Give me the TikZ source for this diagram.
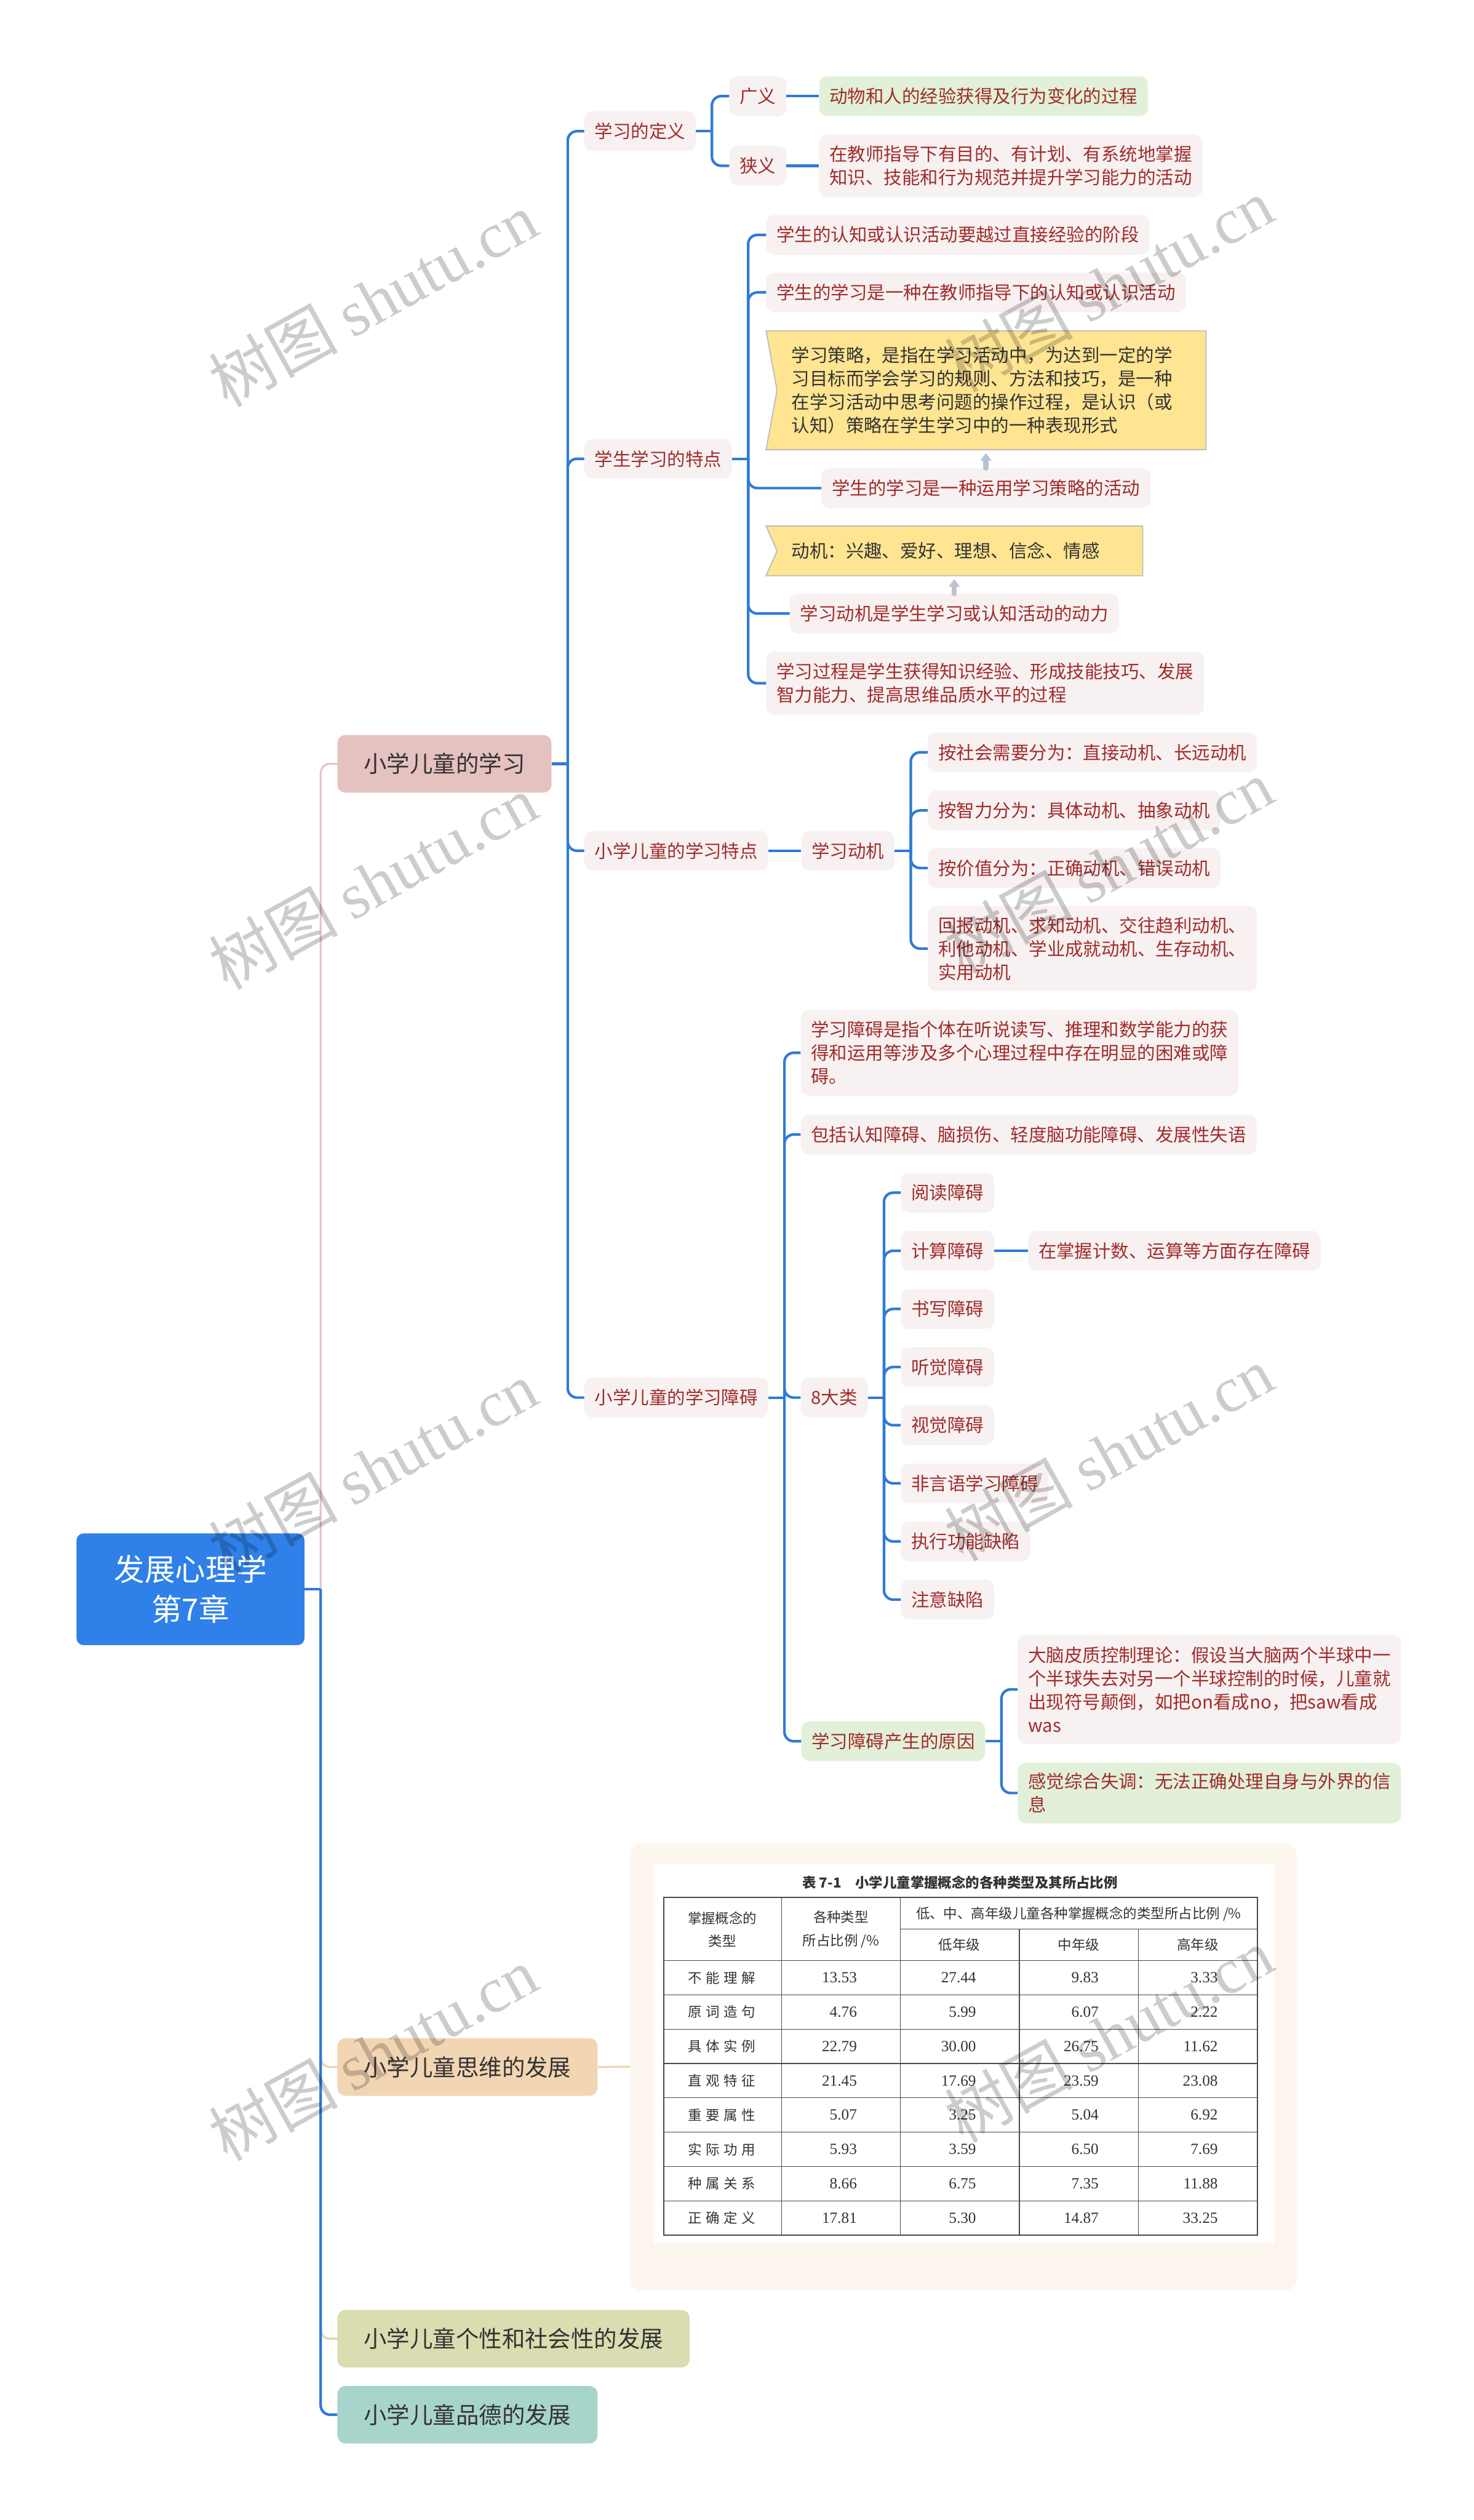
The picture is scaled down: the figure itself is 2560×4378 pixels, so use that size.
\documentclass[tikz,border=0pt]{standalone}
\usepackage{fontspec}
\setmainfont{Noto Sans CJK SC}
\newfontfamily\serifnum{Liberation Serif}
\usetikzlibrary{arrows.meta,calc}
\pgfdeclarelayer{bg}
\pgfsetlayers{bg,main}
\definecolor{blueline}{HTML}{2E7BD6}
\definecolor{rootfill}{HTML}{2F80E8}
\definecolor{pinkfill}{HTML}{E5C1C0}
\definecolor{peachfill}{HTML}{F2D5B3}
\definecolor{olivefill}{HTML}{D9DDB0}
\definecolor{tealfill}{HTML}{A8D5CB}
\definecolor{pinkline}{HTML}{E8C6C5}
\definecolor{peachline}{HTML}{F0D3B0}
\definecolor{oliveline}{HTML}{D8DBAE}
\definecolor{lvfill}{HTML}{F8F1F1}
\definecolor{grfill}{HTML}{E2F0D9}
\definecolor{lvtext}{HTML}{A02C2C}
\definecolor{darktext}{HTML}{333333}
\definecolor{callfill}{HTML}{FFE591}
\definecolor{callborder}{HTML}{BDBDBD}
\definecolor{arrowa}{HTML}{B3C3D6}
\definecolor{arrowb}{HTML}{C6BED2}
\definecolor{tblfill}{HTML}{FDF6EE}
\definecolor{tblline}{HTML}{4A4A4A}
\newcommand\link[3][bl]{%
  \draw[#1] (#2.east) -- ++(28,0) coordinate (jj);
  \draw[#1,rounded corners=16pt] (jj) |- (#3.west);}
\newcommand\slink[3][bl]{\draw[#1] (#2.east) -- (#3.west);}
\newcommand\lsp{\kern7pt}
\begin{document}
\begin{tikzpicture}[x=1pt,y=-1pt,
  bl/.style={draw=blueline,line width=4.5pt},
  pl/.style={draw=pinkline,line width=3.5pt},
  tl/.style={draw=peachline,line width=3.5pt},
  ol/.style={draw=oliveline,line width=3.5pt},
  lv/.style={fill=lvfill,rounded corners=14pt,text=lvtext,font=\fontsize{31.5}{40.5}\selectfont,inner xsep=18pt,inner ysep=0pt,minimum height=69pt,anchor=west,align=left},
  gr/.style={lv,fill=grfill},
  lone/.style={rounded corners=14pt,text=darktext,font=\fontsize{40}{48}\selectfont,inner xsep=46pt,inner ysep=0pt,minimum height=100pt,anchor=west},
  rootbox/.style={fill=rootfill,rounded corners=12pt,text=white,font=\fontsize{53}{69}\selectfont,align=center,minimum width=396pt,minimum height=194pt},
  callbox/.style={text=darktext,font=\fontsize{31.5}{40.5}\selectfont,inner xsep=44pt,inner ysep=0pt,anchor=west,align=left},
  tipa/.style={draw=arrowa,line width=9pt,line cap=round,shorten >=6pt,-{Triangle[length=13pt,width=19pt]}},
  tipb/.style={draw=arrowb,line width=9pt,line cap=round,shorten >=6pt,-{Triangle[length=13pt,width=19pt]}},
  tbl/.style={fill=tblfill,rounded corners=20pt,minimum width=1158pt,minimum height=777pt},
  thd/.style={text=darktext,font=\fontsize{24}{40}\selectfont,align=center,inner sep=0pt},
  tnum/.style={text=darktext,font=\serifnum\fontsize{27}{30}\selectfont,inner sep=0pt,anchor=east},
  tlab/.style={text=darktext,font=\fontsize{24}{30}\selectfont,inner sep=0pt},
  tthick/.style={draw=tblline,line width=2.5pt},
  tthin/.style={draw=tblline,line width=1.3pt},
  wm/.style={rotate=29,text=black,text opacity=0.2,font=\fontsize{112}{120}\selectfont,inner sep=0pt}
]
\begin{pgfonlayer}{bg}
\fill[white] (0,0) rectangle (2560,4378);
\end{pgfonlayer}
\path[use as bounding box] (0,0) rectangle (2560,4378);

% root and level 1
\node[rootbox] (root) at (331,2761) {发展心理学\\第7章};
\node[lone,fill=pinkfill] (l1a) at (586,1327) {小学儿童的学习};
\node[lone,fill=peachfill] (l1b) at (586,3591) {小学儿童思维的发展};
\node[lone,fill=olivefill] (l1c) at (586,4063) {小学儿童个性和社会性的发展};
\node[lone,fill=tealfill] (l1d) at (586,4195) {小学儿童品德的发展};

% level 2: learning definition
\node[lv] (a1) at (1015,228) {学习的定义};
\node[lv] (a11) at (1267,167) {广义};
\node[lv] (a12) at (1267,288) {狭义};
\node[gr] (a111) at (1423,167) {动物和人的经验获得及行为变化的过程};
\node[lv,minimum height=109pt] (a121) at (1423,288) {在教师指导下有目的、有计划、有系统地掌握\\知识、技能和行为规范并提升学习能力的活动};

% student learning features
\node[lv] (a2) at (1015,797) {学生学习的特点};
\node[lv] (a21) at (1331,408) {学生的认知或认识活动要越过直接经验的阶段};
\node[lv] (a22) at (1331,508) {学生的学习是一种在教师指导下的认知或认识活动};
\node[callbox,text width=676pt,minimum height=206pt] (c1) at (1331,678) {学习策略，是指在学习活动中，为达到一定的学\\习目标而学会学习的规则、方法和技巧，是一种\\在学习活动中思考问题的操作过程，是认识（或\\认知）策略在学生学习中的一种表现形式};
\node[lv] (a23) at (1427,848) {学生的学习是一种运用学习策略的活动};
\node[callbox,text width=566pt,minimum height=86pt] (c2) at (1331,957) {动机：兴趣、爱好、理想、信念、情感};
\node[lv] (a24) at (1372,1066) {学习动机是学生学习或认知活动的动力};
\node[lv,minimum height=109pt] (a25) at (1331,1187) {学习过程是学生获得知识经验、形成技能技巧、发展\\智力能力、提高思维品质水平的过程};
\begin{pgfonlayer}{bg}
\filldraw[fill=callfill,draw=callborder,line width=2pt] (c1.north west) -- (c1.north east) -- (c1.south east) -- (c1.south west) -- ($(c1.west)+(19,0)$) -- cycle;
\filldraw[fill=callfill,draw=callborder,line width=2pt] (c2.north west) -- (c2.north east) -- (c2.south east) -- (c2.south west) -- ($(c2.west)+(19,0)$) -- cycle;
\end{pgfonlayer}

% primary school learning features
\node[lv] (a3) at (1015,1478) {小学儿童的学习特点};
\node[lv] (a31) at (1392,1478) {学习动机};
\node[lv] (a311) at (1612,1307) {按社会需要分为：直接动机、长远动机};
\node[lv] (a312) at (1612,1408) {按智力分为：具体动机、抽象动机};
\node[lv] (a313) at (1612,1508) {按价值分为：正确动机、错误动机};
\node[lv,minimum height=148pt] (a314) at (1612,1648) {回报动机、求知动机、交往趋利动机、\\利他动机、学业成就动机、生存动机、\\实用动机};

% learning disabilities
\node[lv] (a4) at (1015,2428) {小学儿童的学习障碍};
\node[lv,minimum height=149pt] (a41) at (1391,1829) {学习障碍是指个体在听说读写、推理和数学能力的获\\得和运用等涉及多个心理过程中存在明显的困难或障\\碍。};
\node[lv] (a42) at (1391,1971) {包括认知障碍、脑损伤、轻度脑功能障碍、发展性失语};
\node[lv] (a43) at (1391,2428) {8大类};
\foreach \t [count=\i] in {阅读障碍,计算障碍,书写障碍,听觉障碍,视觉障碍,非言语学习障碍,执行功能缺陷,注意缺陷}
  \node[lv] (b\i) at (1565,{2072+101*(\i-1)}) {\t};
\node[lv] (b21) at (1786,2173) {在掌握计数、运算等方面存在障碍};
\node[gr] (a44) at (1392,3025) {学习障碍产生的原因};
\node[lv,minimum height=189pt] (a441) at (1768,2935) {大脑皮质控制理论：假设当大脑两个半球中一\\个半球失去对另一个半球控制的时候，儿童就\\出现符号颠倒，如把on看成no，把saw看成\\was};
\node[gr,minimum height=105pt] (a442) at (1768,3115) {感觉综合失调：无法正确处理自身与外界的信\\息};

% table image
\node[tbl] (tbl) at (1674,3590.5) {};
\fill[white] (1136,3238) rectangle (2214,3897);
\node[text=darktext,font=\fontsize{24}{30}\selectfont\bfseries,inner sep=0pt] (ttl) at (1668,3271) {表 7-1\quad 小学儿童掌握概念的各种类型及其所占比例};
\draw[tthin] (1358,3296) -- (1358,3883) (1564,3296) -- (1564,3883) (1771,3351) -- (1771,3883) (1978,3351) -- (1978,3883) (1564,3351) -- (2185,3351);
\foreach \k in {1,...,7} \draw[tthin] (1153,{3406+59.625*\k}) -- (2185,{3406+59.625*\k});
\draw[tthin,line width=1.8pt] (1153,3406) -- (2185,3406);
\draw[tthick] (1153,3296) rectangle (2185,3883);
\node[thd] (h1) at (1255,3352) {掌握概念的\\类型};
\node[thd] (h2) at (1461,3352) {各种类型\\所占比例 /\%};
\node[thd] (h3) at (1874,3325) {低、中、高年级儿童各种掌握概念的类型所占比例 /\%};
\node[thd] (h4) at (1667,3379) {低年级};
\node[thd] (h5) at (1874,3379) {中年级};
\node[thd] (h6) at (2081,3379) {高年级};
\foreach \la/\va/\vb/\vc/\vd [count=\i] in {
  不\lsp 能\lsp 理\lsp 解/13.53/27.44/9.83/3.33,
  原\lsp 词\lsp 造\lsp 句/4.76/5.99/6.07/2.22,
  具\lsp 体\lsp 实\lsp 例/22.79/30.00/26.75/11.62,
  直\lsp 观\lsp 特\lsp 征/21.45/17.69/23.59/23.08,
  重\lsp 要\lsp 属\lsp 性/5.07/3.25/5.04/6.92,
  实\lsp 际\lsp 功\lsp 用/5.93/3.59/6.50/7.69,
  种\lsp 属\lsp 关\lsp 系/8.66/6.75/7.35/11.88,
  正\lsp 确\lsp 定\lsp 义/17.81/5.30/14.87/33.25} {
  \pgfmathsetmacro\yy{3406+59.625*(\i-0.5)}
  \node[tlab] (rl\i) at (1254,\yy) {\la};
  \node[tnum] (rva\i) at (1489,\yy) {\va};
  \node[tnum] (rvb\i) at (1696,\yy) {\vb};
  \node[tnum] (rvc\i) at (1909,\yy) {\vc};
  \node[tnum] (rvd\i) at (2116,\yy) {\vd};
}

% connectors from root
\link[pl]{root}{l1a}
\link[tl]{root}{l1b}
\link[ol]{root}{l1c}
\link[bl]{root}{l1d}
\slink[tl]{l1b}{tbl}

% connectors level 2+
\foreach \c in {a1,a2,a3,a4} {\link{l1a}{\c}}
\link{a1}{a11}
\link{a1}{a12}
\slink{a11}{a111}
\slink{a12}{a121}
\foreach \c in {a21,a22,a23,a24,a25} {\link{a2}{\c}}
\slink{a3}{a31}
\foreach \c in {a311,a312,a313,a314} {\link{a31}{\c}}
\foreach \c in {a41,a42,a43,a44} {\link{a4}{\c}}
\foreach \i in {1,...,8} {\link{a43}{b\i}}
\slink{b2}{b21}
\link{a44}{a441}
\link{a44}{a442}
\draw[tipa] (a23.north) -- (a23.north |- c1.south);
\draw[tipb] (a24.north) -- (a24.north |- c2.south);

% watermarks
\foreach \x/\y [count=\k] in {648/520,1926/495,648/1532,1926/1505,648/2550,1926/2525,648/3568,1926/3535,648/4580,1926/4550}
  \node[wm] (wm\k) at (\x,\y) {树图 {\serifnum shutu.cn}};
\end{tikzpicture}
\end{document}
